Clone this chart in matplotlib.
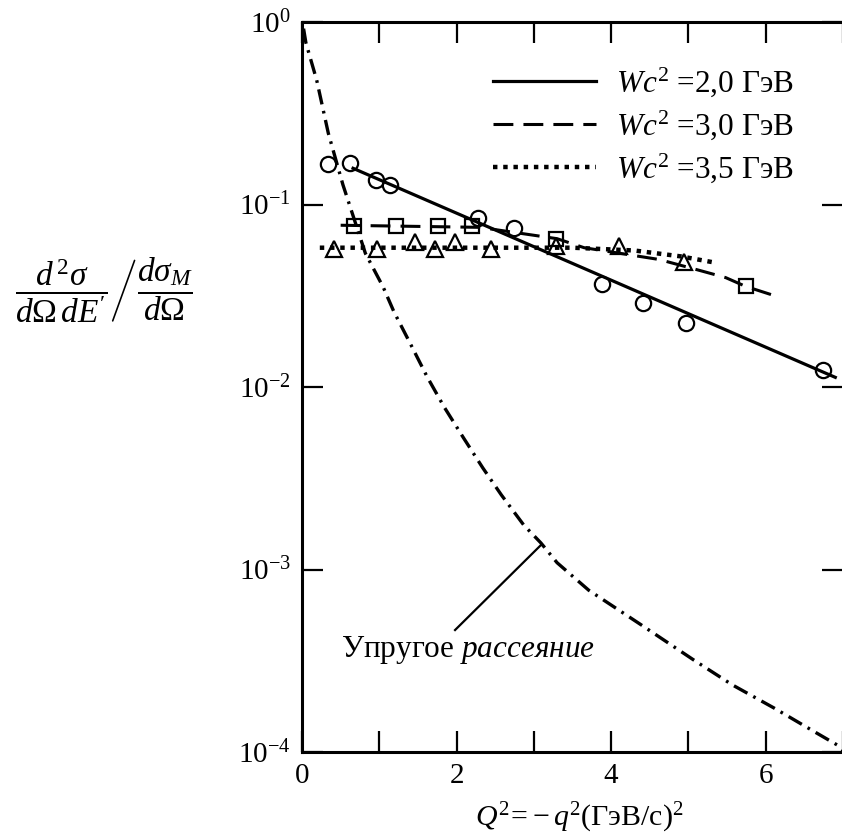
import matplotlib
matplotlib.use("Agg")
import matplotlib.pyplot as plt

plt.rcParams['font.family'] = ['Liberation Serif', 'DejaVu Serif']
plt.rcParams['mathtext.fontset'] = 'custom'
plt.rcParams['mathtext.rm'] = 'Liberation Serif'
plt.rcParams['mathtext.it'] = 'Liberation Serif:italic'
plt.rcParams['mathtext.bf'] = 'Liberation Serif:bold'

# data
# Wc^2 = 2.0 GeV (circles)
q2_circ = [0.34, 0.62, 0.96, 1.14, 2.28, 2.74, 3.88, 4.41, 4.97, 6.74]
r_circ = [0.166, 0.168, 0.137, 0.128, 0.084, 0.074, 0.0369, 0.0287, 0.0223, 0.0124]
# Wc^2 = 3.0 GeV (squares)
q2_sq = [0.67, 1.22, 1.76, 2.2, 3.29, 5.74]
r_sq = [0.076, 0.076, 0.076, 0.076, 0.065, 0.0356]
# Wc^2 = 3.5 GeV (triangles)
q2_tri = [0.41, 0.97, 1.46, 1.72, 1.98, 2.45, 3.29, 4.10, 4.94]
r_tri = [0.0573, 0.0573, 0.062, 0.0573, 0.062, 0.0573, 0.0589, 0.0589, 0.0487]

# fitted curves
fit20_x = [0.66, 6.9]
fit20_y = [0.158, 0.0113]
fit30_x = [0.5, 2.3, 3.3, 3.65, 4.62, 5.14, 5.48, 5.74, 6.1]
fit30_y = [0.077, 0.075, 0.065, 0.058, 0.050, 0.0436, 0.0398, 0.0356, 0.0318]
fit35_x = [0.23, 3.5, 4.3, 4.9, 5.35]
fit35_y = [0.058, 0.058, 0.056, 0.052, 0.048]

# elastic scattering
el_x = [0.02, 0.05, 0.19, 0.34, 0.53, 0.82, 1.05, 1.19, 1.41, 1.62, 1.84, 2.09,
        2.34, 2.58, 2.87, 3.09, 3.30, 3.71, 4.39, 5.07, 5.57, 6.11, 6.66, 6.93, 7.0]
el_y = [0.92, 0.77, 0.48, 0.246, 0.128, 0.054, 0.0353, 0.0258, 0.0170, 0.01135,
        0.00776, 0.00526, 0.0036, 0.00256, 0.00175, 0.0014, 0.00109, 0.00077,
        0.000497, 0.000319, 0.000233, 0.000174, 0.000127, 0.000109, 0.000102]
el_ptr_x = [1.98, 3.09]
el_ptr_y = [0.000466, 0.00136]

labels = [r'$Wc^2$ =2,0 ГэВ', r'$Wc^2$ =3,0 ГэВ', r'$Wc^2$ =3,5 ГэВ']

fig = plt.figure(figsize=(8.42, 8.38), dpi=100)
ax = fig.add_axes([0.3587, 0.1026, 0.6425, 0.8711])

ax.plot(fit20_x, fit20_y, '-', color='black', lw=2.3, label=labels[0])
ax.plot(fit30_x, fit30_y, color='black', lw=2.2, dashes=(6.5, 3.3), label=labels[1])
ax.plot(fit35_x, fit35_y, color='black', lw=3.2, dashes=(1.0, 1.3),
        dash_capstyle='butt', label=labels[2])
ax.plot(el_x, el_y, color='black', lw=2.4, dashes=(4.6, 2.0, 0.8, 2.0))
ax.plot(el_ptr_x, el_ptr_y, color='black', lw=1.6)

mk = dict(ls='none', color='black', mfc='none', mew=1.6)
ax.plot(q2_circ, r_circ, marker='o', ms=11, **mk)
ax.plot(q2_sq, r_sq, marker='s', ms=10.5, **mk)
ax.plot(q2_tri, r_tri, marker='^', ms=12, **mk)

ax.text(0.5, 0.000362, 'Упругое $\\mathit{рассеяние}$', fontsize=22.5, va='center', ha='left')

ax.set_yscale('log')
ax.set_xlim(0, 7)
ax.set_ylim(1e-4, 1)
ax.set_xticks(range(8))
ax.set_xticklabels(['0', '', '2', '', '4', '', '6', ''])
ax.yaxis.set_minor_locator(matplotlib.ticker.NullLocator())
ax.tick_params(which='major', direction='in', length=15, width=1.6,
               top=True, right=True, labelsize=21, pad=8)
for s in ax.spines.values():
    s.set_linewidth(2.2)

ax.legend(loc='upper right', bbox_to_anchor=(0.91, 0.94), frameon=False,
          fontsize=22.5, handlelength=3.3, handletextpad=0.65, labelspacing=0.3,
          borderpad=0, borderaxespad=0)

fig.text(0.123, 0.654,
         r'$\left.\dfrac{d^{\,2}\sigma}{d\Omega\, dE^\prime}\right/\dfrac{d\sigma_M}{d\Omega}$',
         fontsize=24, ha='center', va='center')
fig.text(0.688, 0.024, r'$Q^2\!=\!-q^2$(ГэВ/c)$^2$', fontsize=21.5, ha='center', va='center')

fig.savefig('out.png', dpi=100)
